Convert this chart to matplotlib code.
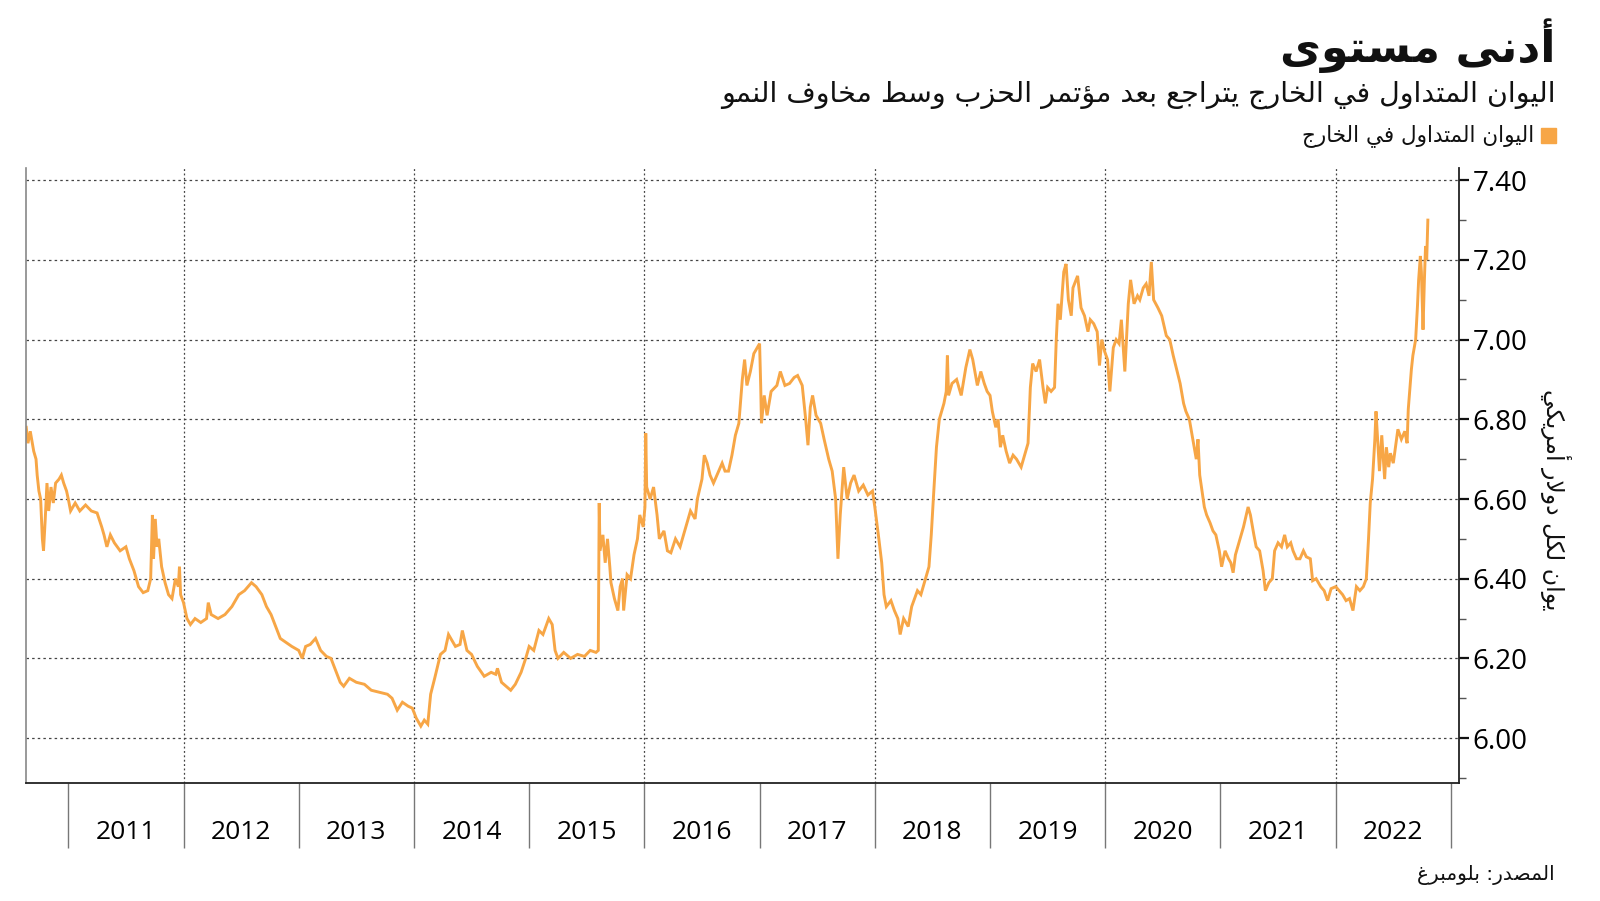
import numpy as np
import matplotlib
matplotlib.use("Agg")
import matplotlib.pyplot as plt
from matplotlib.patches import Rectangle

# offshore yuan (CNH) per USD (decimal year, value)
dates = [
    2010.635, 2010.65, 2010.67, 2010.70, 2010.72, 2010.73, 2010.745, 2010.76, 2010.775, 2010.785,
    2010.80, 2010.815, 2010.83, 2010.85, 2010.87, 2010.89, 2010.92, 2010.94, 2010.96, 2010.985,
    2011.00, 2011.02, 2011.06, 2011.10, 2011.15, 2011.20, 2011.25, 2011.29, 2011.31, 2011.335,
    2011.365, 2011.40, 2011.45, 2011.50, 2011.53, 2011.57, 2011.61, 2011.65, 2011.69, 2011.715,
    2011.73, 2011.74, 2011.755, 2011.77, 2011.785, 2011.81, 2011.84, 2011.87, 2011.90, 2011.93,
    2011.955, 2011.965, 2011.975, 2012.00, 2012.03, 2012.06, 2012.10, 2012.15, 2012.20, 2012.215,
    2012.24, 2012.30, 2012.36, 2012.42, 2012.48, 2012.53, 2012.59, 2012.63, 2012.68, 2012.72,
    2012.76, 2012.80, 2012.84, 2012.89, 2012.94, 2013.00, 2013.03, 2013.06, 2013.10, 2013.146,
    2013.19, 2013.24, 2013.28, 2013.32, 2013.36, 2013.39, 2013.44, 2013.50, 2013.57, 2013.63,
    2013.70, 2013.77, 2013.81, 2013.855, 2013.90, 2013.95, 2013.986, 2014.02, 2014.06, 2014.09,
    2014.12, 2014.145, 2014.18, 2014.23, 2014.27, 2014.30, 2014.32, 2014.36, 2014.40, 2014.42,
    2014.46, 2014.50, 2014.55, 2014.61, 2014.67, 2014.71, 2014.725, 2014.76, 2014.80, 2014.84,
    2014.88, 2014.93, 2014.97, 2015.00, 2015.04, 2015.085, 2015.12, 2015.17, 2015.20, 2015.225,
    2015.25, 2015.30, 2015.36, 2015.42, 2015.48, 2015.53, 2015.58, 2015.60, 2015.608, 2015.615,
    2015.64, 2015.66, 2015.68, 2015.70, 2015.71, 2015.74, 2015.77, 2015.79, 2015.81, 2015.82,
    2015.85, 2015.88, 2015.91, 2015.94, 2015.96, 2015.99, 2016.005, 2016.012, 2016.02, 2016.05,
    2016.08, 2016.11, 2016.13, 2016.17, 2016.20, 2016.23, 2016.27, 2016.31, 2016.36, 2016.40,
    2016.44, 2016.46, 2016.50, 2016.52, 2016.545, 2016.57, 2016.60, 2016.63, 2016.675, 2016.70,
    2016.73, 2016.76, 2016.79, 2016.82, 2016.85, 2016.87, 2016.89, 2016.92, 2016.95, 2016.98,
    2017.00, 2017.01, 2017.016, 2017.04, 2017.065, 2017.10, 2017.15, 2017.18, 2017.22, 2017.26,
    2017.30, 2017.33, 2017.37, 2017.40, 2017.42, 2017.44, 2017.46, 2017.49, 2017.53, 2017.56,
    2017.60, 2017.63, 2017.66, 2017.68, 2017.70, 2017.73, 2017.76, 2017.79, 2017.82, 2017.86,
    2017.90, 2017.94, 2017.98, 2018.00, 2018.035, 2018.06, 2018.08, 2018.10, 2018.14, 2018.17,
    2018.20, 2018.22, 2018.25, 2018.29, 2018.32, 2018.37, 2018.40, 2018.44, 2018.47, 2018.49,
    2018.51, 2018.535, 2018.56, 2018.60, 2018.62, 2018.63, 2018.64, 2018.67, 2018.71, 2018.75,
    2018.79, 2018.825, 2018.85, 2018.89, 2018.92, 2018.95, 2018.975, 2019.00, 2019.02, 2019.05,
    2019.07, 2019.09, 2019.11, 2019.14, 2019.17, 2019.20, 2019.23, 2019.27, 2019.31, 2019.33,
    2019.35, 2019.37, 2019.40, 2019.43, 2019.46, 2019.48, 2019.50, 2019.53, 2019.56, 2019.575,
    2019.59, 2019.61, 2019.64, 2019.66, 2019.68, 2019.705, 2019.72, 2019.76, 2019.79, 2019.82,
    2019.85, 2019.87, 2019.90, 2019.93, 2019.95, 2019.97, 2019.995, 2020.02, 2020.04, 2020.07,
    2020.095, 2020.12, 2020.14, 2020.17, 2020.20, 2020.22, 2020.25, 2020.28, 2020.30, 2020.33,
    2020.355, 2020.38, 2020.40, 2020.42, 2020.457, 2020.49, 2020.53, 2020.56, 2020.59, 2020.616,
    2020.65, 2020.68, 2020.70, 2020.73, 2020.76, 2020.79, 2020.805, 2020.82, 2020.86, 2020.88,
    2020.91, 2020.935, 2020.96, 2020.99, 2021.01, 2021.04, 2021.07, 2021.09, 2021.11, 2021.13,
    2021.17, 2021.20, 2021.24, 2021.26, 2021.29, 2021.31, 2021.34, 2021.37, 2021.39, 2021.42,
    2021.45, 2021.47, 2021.50, 2021.53, 2021.557, 2021.58, 2021.61, 2021.63, 2021.66, 2021.69,
    2021.72, 2021.745, 2021.78, 2021.80, 2021.83, 2021.87, 2021.90, 2021.93, 2021.96, 2022.00,
    2022.03, 2022.06, 2022.09, 2022.12, 2022.15, 2022.18, 2022.21, 2022.24, 2022.266, 2022.285,
    2022.30, 2022.32, 2022.34, 2022.35, 2022.37, 2022.38, 2022.40, 2022.425, 2022.44, 2022.46,
    2022.475, 2022.50, 2022.54, 2022.57, 2022.60, 2022.62, 2022.63, 2022.645, 2022.657, 2022.67,
    2022.694, 2022.71, 2022.72, 2022.735, 2022.744, 2022.758, 2022.77, 2022.78, 2022.79, 2022.80,
]
cnh = [
    6.78, 6.74, 6.77, 6.72, 6.70, 6.66, 6.62, 6.60, 6.50, 6.47,
    6.55, 6.64, 6.57, 6.63, 6.59, 6.64, 6.65, 6.66, 6.64, 6.62,
    6.60, 6.57, 6.59, 6.57, 6.585, 6.57, 6.565, 6.53, 6.51, 6.48,
    6.51, 6.49, 6.47, 6.48, 6.45, 6.42, 6.38, 6.365, 6.37, 6.40,
    6.56, 6.45, 6.55, 6.48, 6.50, 6.43, 6.39, 6.36, 6.35, 6.40,
    6.38, 6.43, 6.36, 6.34, 6.30, 6.285, 6.30, 6.29, 6.30, 6.34,
    6.31, 6.30, 6.31, 6.33, 6.36, 6.37, 6.39, 6.38, 6.36, 6.33,
    6.31, 6.28, 6.25, 6.24, 6.23, 6.22, 6.20, 6.23, 6.235, 6.25,
    6.22, 6.205, 6.20, 6.17, 6.14, 6.13, 6.15, 6.14, 6.135, 6.12,
    6.115, 6.11, 6.10, 6.07, 6.09, 6.08, 6.075, 6.05, 6.03, 6.045,
    6.035, 6.11, 6.15, 6.21, 6.22, 6.26, 6.25, 6.23, 6.235, 6.27,
    6.22, 6.21, 6.18, 6.155, 6.165, 6.16, 6.175, 6.14, 6.13, 6.12,
    6.135, 6.165, 6.20, 6.23, 6.22, 6.27, 6.26, 6.30, 6.285, 6.22,
    6.20, 6.215, 6.20, 6.21, 6.205, 6.22, 6.215, 6.22, 6.59, 6.47,
    6.51, 6.44, 6.50, 6.43, 6.39, 6.35, 6.32, 6.38, 6.40, 6.32,
    6.41, 6.40, 6.46, 6.50, 6.56, 6.53, 6.58, 6.765, 6.63, 6.60,
    6.63, 6.56, 6.50, 6.52, 6.47, 6.465, 6.50, 6.48, 6.53, 6.57,
    6.55, 6.60, 6.65, 6.71, 6.69, 6.66, 6.64, 6.66, 6.69, 6.67,
    6.67, 6.71, 6.76, 6.79, 6.90, 6.95, 6.885, 6.92, 6.965, 6.98,
    6.99, 6.88, 6.79, 6.86, 6.81, 6.87, 6.885, 6.92, 6.885, 6.89,
    6.905, 6.91, 6.885, 6.80, 6.735, 6.83, 6.86, 6.81, 6.79, 6.75,
    6.70, 6.67, 6.60, 6.45, 6.56, 6.68, 6.60, 6.64, 6.66, 6.62,
    6.635, 6.61, 6.62, 6.58, 6.50, 6.44, 6.36, 6.33, 6.345, 6.32,
    6.30, 6.26, 6.30, 6.28, 6.33, 6.37, 6.36, 6.40, 6.43, 6.51,
    6.61, 6.73, 6.80, 6.84, 6.87, 6.96, 6.86, 6.89, 6.90, 6.86,
    6.93, 6.975, 6.95, 6.885, 6.92, 6.89, 6.87, 6.86, 6.82, 6.78,
    6.80, 6.73, 6.76, 6.72, 6.69, 6.71, 6.70, 6.68, 6.72, 6.74,
    6.88, 6.94, 6.92, 6.95, 6.88, 6.84, 6.88, 6.87, 6.88, 7.00,
    7.09, 7.05, 7.17, 7.19, 7.10, 7.06, 7.13, 7.16, 7.08, 7.06,
    7.02, 7.05, 7.04, 7.02, 6.935, 7.00, 6.97, 6.95, 6.87, 6.98,
    7.00, 6.99, 7.05, 6.92, 7.09, 7.15, 7.09, 7.11, 7.10, 7.13,
    7.14, 7.11, 7.195, 7.10, 7.08, 7.06, 7.01, 7.00, 6.96, 6.93,
    6.89, 6.84, 6.82, 6.80, 6.75, 6.70, 6.75, 6.66, 6.58, 6.56,
    6.54, 6.52, 6.51, 6.47, 6.43, 6.47, 6.45, 6.44, 6.415, 6.46,
    6.50, 6.53, 6.58, 6.56, 6.51, 6.48, 6.47, 6.42, 6.37, 6.39,
    6.40, 6.47, 6.49, 6.48, 6.51, 6.48, 6.49, 6.47, 6.45, 6.45,
    6.47, 6.455, 6.45, 6.395, 6.40, 6.38, 6.37, 6.345, 6.375, 6.38,
    6.37, 6.36, 6.345, 6.35, 6.32, 6.38, 6.37, 6.38, 6.40, 6.50,
    6.59, 6.65, 6.75, 6.82, 6.72, 6.67, 6.76, 6.65, 6.73, 6.68,
    6.715, 6.69, 6.775, 6.75, 6.77, 6.74, 6.825, 6.88, 6.925, 6.96,
    7.00, 7.085, 7.15, 7.21, 7.17, 7.025, 7.15, 7.235, 7.20, 7.30,
]

years = list(range(2011, 2023))
y_ticks = [6.0, 6.2, 6.4, 6.6, 6.8, 7.0, 7.2, 7.4]

title = "أدنى مستوى"
subtitle = "اليوان المتداول في الخارج يتراجع بعد مؤتمر الحزب وسط مخاوف النمو"
legend_label = "اليوان المتداول في الخارج"
y_label = "يوان لكل دولار أمريكي"
source = "المصدر: بلومبرغ"

# minimal arabic shaping: presentation forms + reversed order (matplotlib has no bidi)
DUAL = {'ب': 0xFE8F, 'ت': 0xFE95, 'ث': 0xFE99, 'ج': 0xFE9D, 'ح': 0xFEA1, 'خ': 0xFEA5,
        'س': 0xFEB1, 'ش': 0xFEB5, 'ص': 0xFEB9, 'ض': 0xFEBD, 'ط': 0xFEC1, 'ظ': 0xFEC5,
        'ع': 0xFEC9, 'غ': 0xFECD, 'ف': 0xFED1, 'ق': 0xFED5, 'ك': 0xFED9, 'ل': 0xFEDD,
        'م': 0xFEE1, 'ن': 0xFEE5, 'ه': 0xFEE9, 'ي': 0xFEF1}
RIGHT = {'ا': 0xFE8D, 'أ': 0xFE83, 'إ': 0xFE87, 'آ': 0xFE81, 'ؤ': 0xFE85, 'د': 0xFEA9,
         'ذ': 0xFEAB, 'ر': 0xFEAD, 'ز': 0xFEAF, 'و': 0xFEED, 'ى': 0xFEEF, 'ة': 0xFE93}
LAM_ALEF = {'ا': 0xFEFB, 'أ': 0xFEF7, 'إ': 0xFEF9, 'آ': 0xFEF5}


def shape(text):
    out = []
    i = 0
    while i < len(text):
        c = text[i]
        jp = i > 0 and text[i - 1] in DUAL
        nxt = text[i + 1] if i + 1 < len(text) else ''
        if c == 'ل' and nxt in LAM_ALEF:
            out.append(chr(LAM_ALEF[nxt] + int(jp)))
            i += 2
            continue
        if c in DUAL:
            jn = nxt in DUAL or nxt in RIGHT
            out.append(chr(DUAL[c] + int(jp) + 2 * int(jn)))
        elif c in RIGHT:
            out.append(chr(RIGHT[c] + int(jp)))
        else:
            out.append(c)
        i += 1
    return ''.join(reversed(out))


orange = '#F7A646'
ar_font = 'DejaVu Sans'
num_font = 'Open Sans'

fig = plt.figure(figsize=(16, 9.01), dpi=100)
ax = fig.add_axes([0.01625, 0.1313, 0.8956, 0.6819])

ax.plot(dates, cnh, color=orange, lw=2.1, solid_joinstyle='miter')

ax.set_xlim(2010.633, 2023.07)
ax.set_ylim(5.888, 7.43)

# grid
for v in y_ticks:
    ax.axhline(v, color='#444444', lw=0.9, ls=(0, (2, 2.5)), zorder=0)
for yr in range(2012, 2023, 2):
    ax.axvline(yr, color='#444444', lw=0.9, ls=(0, (1.5, 2)), zorder=0)

ax.spines['top'].set_visible(False)
ax.spines['left'].set_color('#888888')
ax.spines['left'].set_linewidth(1.2)
ax.spines['bottom'].set_color('#222222')
ax.spines['bottom'].set_linewidth(1.3)
ax.spines['right'].set_color('#222222')
ax.spines['right'].set_linewidth(1.3)

# y axis on the right
ax.yaxis.tick_right()
ax.set_yticks(y_ticks)
ax.set_yticklabels([f"{v:.2f}" for v in y_ticks], fontsize=20, family=num_font)
ax.set_yticks([5.9, 6.1, 6.3, 6.5, 6.7, 6.9, 7.1, 7.3], minor=True)
ax.tick_params(axis='y', which='major', length=7, width=1.6, color='#111111', pad=3, left=False)
ax.tick_params(axis='y', which='minor', length=5, width=1.0, color='#555555', left=False)

# x axis: long separators at year boundaries, labels centred in the year
ax.set_xticks(list(range(2011, 2024)))
ax.set_xticklabels([])
ax.set_xticks([y + 0.5 for y in years], minor=True)
ax.set_xticklabels([str(y) for y in years], minor=True, fontsize=19, family=num_font)
ax.tick_params(axis='x', which='major', length=47, width=1.0, color='#777777')
ax.tick_params(axis='x', which='minor', length=0, pad=27)

# titles and legend
fig.text(0.9725, 1 - 46 / 901, shape(title), ha='right', va='center',
         fontsize=32, fontweight='bold', family=ar_font, color='#111111')
fig.text(0.9725, 1 - 95 / 901, shape(subtitle), ha='right', va='center',
         fontsize=20.5, family=ar_font, color='#111111')
fig.patches.append(Rectangle((1541 / 1600, 1 - 143 / 901), 15 / 1600, 15 / 901,
                             transform=fig.transFigure, color=orange))
fig.text(1534 / 1600, 1 - 136 / 901, shape(legend_label), ha='right', va='center',
         fontsize=15.5, family=ar_font, color='#111111')
fig.text(0.972, 0.445, shape(y_label), ha='center', va='center', rotation=-90,
         fontsize=17, family=ar_font, color='#111111')
fig.text(0.9715, 1 - 875 / 901, shape(source), ha='right', va='center',
         fontsize=14.5, family=ar_font, color='#111111')

fig.savefig('out.png', dpi=100)
